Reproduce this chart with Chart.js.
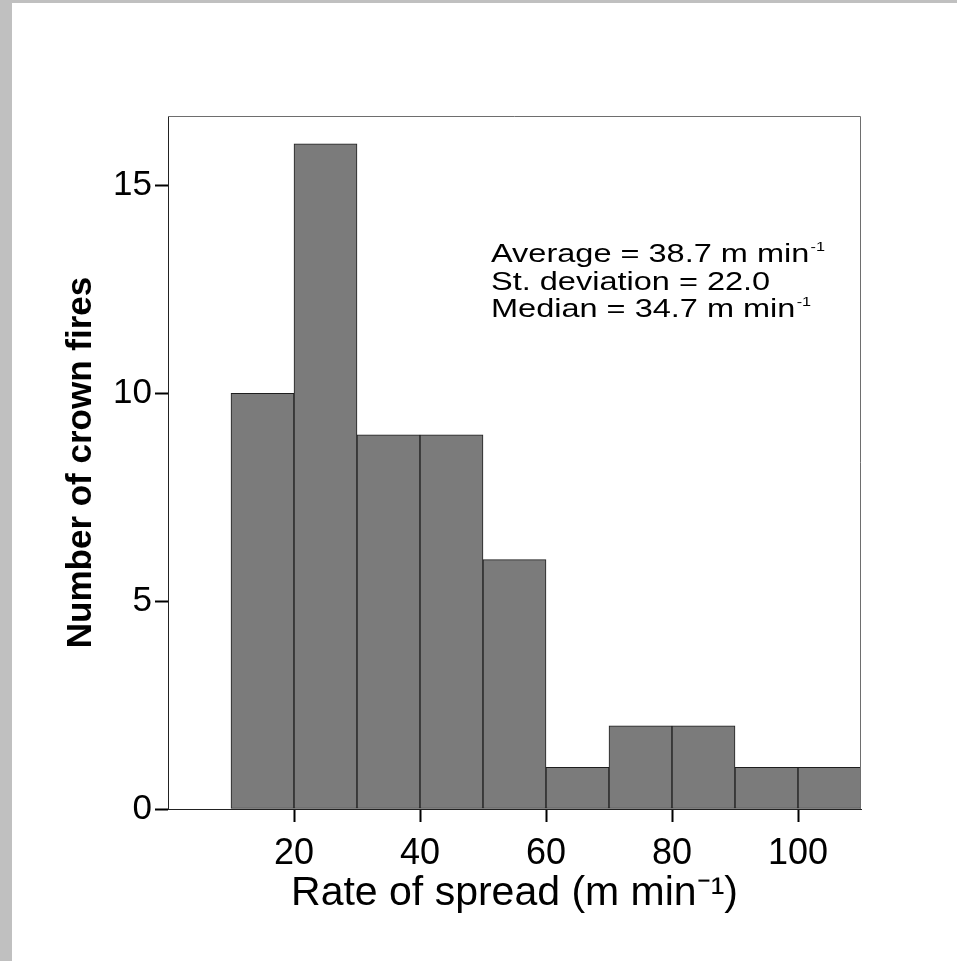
<!DOCTYPE html>
<html lang="en">
<head>
    <meta charset="UTF-8">
    <title>Rate of spread histogram</title>
    <script src="https://cdn.jsdelivr.net/npm/chart.js"></script>
    <style>
        body {
            margin: 0;
            background-color: #ffffff;
            border-left: 12px solid #c0c0c0;
            border-top: 3px solid #c0c0c0;
            font-family: "Liberation Sans", Arial, sans-serif;
        }

        #chartBox {
            width: 945px;
            height: 958px;
        }
    </style>
</head>
<body>

<div id="chartBox">
    <canvas id="histChart"></canvas>
</div>

<script>
    // histogram bins (lower edge, m min-1) and counts of crown fires
    const binStarts = [10, 20, 30, 40, 50, 60, 70, 80, 90, 100];
    const binWidth = 10;
    const fireCounts = [10, 16, 9, 9, 6, 1, 2, 2, 1, 1];

    const xTicks = [20, 40, 60, 80, 100];
    const yTicks = [0, 5, 10, 15];

    const statLines = [
        ['Average = 38.7 m min', '-1'],
        ['St. deviation = 22.0', ''],
        ['Median = 34.7 m min', '-1']
    ];

    const points = binStarts.map((b, i) => ({ x: b + binWidth / 2, y: fireCounts[i] }));

    // frame on top/right plus the stats text
    const framePlugin = {
        id: 'frameAndStats',
        afterDraw(chart) {
            const { ctx, chartArea } = chart;
            ctx.save();
            ctx.strokeStyle = '#6e6e6e';
            ctx.lineWidth = 1;
            ctx.beginPath();
            ctx.moveTo(chartArea.left, chartArea.top + 0.5);
            ctx.lineTo(chartArea.right - 0.5, chartArea.top + 0.5);
            ctx.lineTo(chartArea.right - 0.5, chartArea.bottom);
            ctx.stroke();

            // text in the original is a bit wide, stretch it horizontally
            ctx.translate(479, 0);
            ctx.scale(1.25, 1);
            ctx.fillStyle = '#000';
            ctx.textBaseline = 'alphabetic';
            let y = 259;
            statLines.forEach(([main, sup]) => {
                ctx.font = '26px "Liberation Sans", Arial, sans-serif';
                ctx.fillText(main, 0, y);
                if (sup) {
                    const w = ctx.measureText(main).width;
                    ctx.font = '13px "Liberation Sans", Arial, sans-serif';
                    ctx.fillText(sup, w + 1, y - 11);
                }
                y += 27.5;
            });
            ctx.restore();
        }
    };

    const ctx = document.getElementById('histChart').getContext('2d');
    new Chart(ctx, {
        type: 'bar',
        data: {
            datasets: [{
                data: points,
                backgroundColor: '#7b7b7b',
                borderColor: '#1e1e1e',
                borderWidth: 1,
                borderSkipped: false,
                barPercentage: 1,
                categoryPercentage: 1
            }]
        },
        options: {
            responsive: true,
            maintainAspectRatio: false,
            animation: false,
            layout: { padding: { top: 113, right: 96, bottom: 0, left: 0 } },
            plugins: {
                legend: { display: false },
                tooltip: { enabled: false }
            },
            scales: {
                x: {
                    type: 'linear',
                    min: 0,
                    max: 110,
                    offset: false,
                    afterFit: (s) => { s.height = 152; },
                    afterBuildTicks: (s) => {
                        s.ticks = xTicks.map(v => ({ value: v }));
                    },
                    grid: {
                        offset: false,
                        drawOnChartArea: false,
                        drawTicks: true,
                        tickLength: 13,
                        tickColor: '#000',
                        tickWidth: 2
                    },
                    border: { display: true, color: '#222', width: 1 },
                    ticks: {
                        color: '#000',
                        padding: 10,
                        maxRotation: 0,
                        font: { size: 36, family: '"Liberation Sans", Arial, sans-serif' }
                    },
                    title: {
                        display: true,
                        text: 'Rate of spread (m min\u207B\u00B9)',
                        color: '#000',
                        padding: { top: 0, bottom: 43 },
                        font: { size: 41, family: '"Liberation Sans", Arial, sans-serif' }
                    }
                },
                y: {
                    min: 0,
                    max: 16.67,
                    afterFit: (s) => { s.width = 156; },
                    afterBuildTicks: (s) => {
                        s.ticks = yTicks.map(v => ({ value: v }));
                    },
                    grid: {
                        drawOnChartArea: false,
                        drawTicks: true,
                        tickLength: 13,
                        tickColor: '#000',
                        tickWidth: 2
                    },
                    border: { display: true, color: '#222', width: 1 },
                    ticks: {
                        color: '#000',
                        padding: 3,
                        font: { size: 35, family: '"Liberation Sans", Arial, sans-serif' }
                    },
                    title: {
                        display: true,
                        text: 'Number of crown fires',
                        color: '#000',
                        padding: { top: 48, bottom: 0 },
                        font: { size: 35, weight: 'bold', family: '"Liberation Sans", Arial, sans-serif' }
                    }
                }
            }
        },
        plugins: [framePlugin]
    });
</script>

</body>
</html>
